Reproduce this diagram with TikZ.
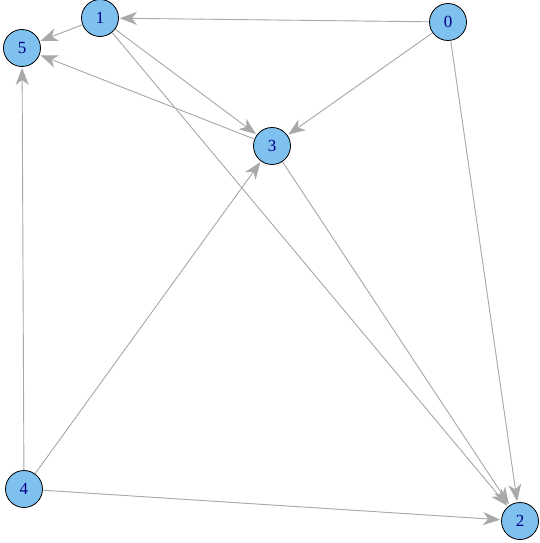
\documentclass[tikz,border=0pt]{standalone}
\usepackage{fontspec}
\setmainfont{Liberation Serif}
\usetikzlibrary{arrows.meta}
\definecolor{vertexblue}{HTML}{7EC0EE}
\definecolor{edgegray}{HTML}{A9A9A9}
\definecolor{labelblue}{HTML}{00008B}
\tikzset{vertex/.style={circle,draw=black,line width=0.8pt,fill=vertexblue,minimum size=37pt,inner sep=0pt,text=labelblue,font=\fontsize{17}{17}\selectfont},edge/.style={-{Stealth[length=17pt,width=13pt,inset=5pt]},draw=edgegray,fill=edgegray,line width=0.9pt,shorten >=1pt}}

\begin{document}
\begin{tikzpicture}[x=1pt,y=-1pt]
\useasboundingbox (0,0) rectangle (540,543);
\node[vertex] (n0) at (448,22) {0};
\node[vertex] (n1) at (100,18) {1};
\node[vertex] (n2) at (520,521) {2};
\node[vertex] (n3) at (272,146) {3};
\node[vertex] (n4) at (24,489) {4};
\node[vertex] (n5) at (22,48) {5};
\draw[edge] (n0) -- (n1);
\draw[edge] (n0) -- (n3);
\draw[edge] (n0) -- (n2);
\draw[edge] (n1) -- (n5);
\draw[edge] (n1) -- (n3);
\draw[edge] (n1) -- (n2);
\draw[edge] (n3) -- (n5);
\draw[edge] (n3) -- (n2);
\draw[edge] (n4) -- (n5);
\draw[edge] (n4) -- (n3);
\draw[edge] (n4) -- (n2);
\end{tikzpicture}
\end{document}
